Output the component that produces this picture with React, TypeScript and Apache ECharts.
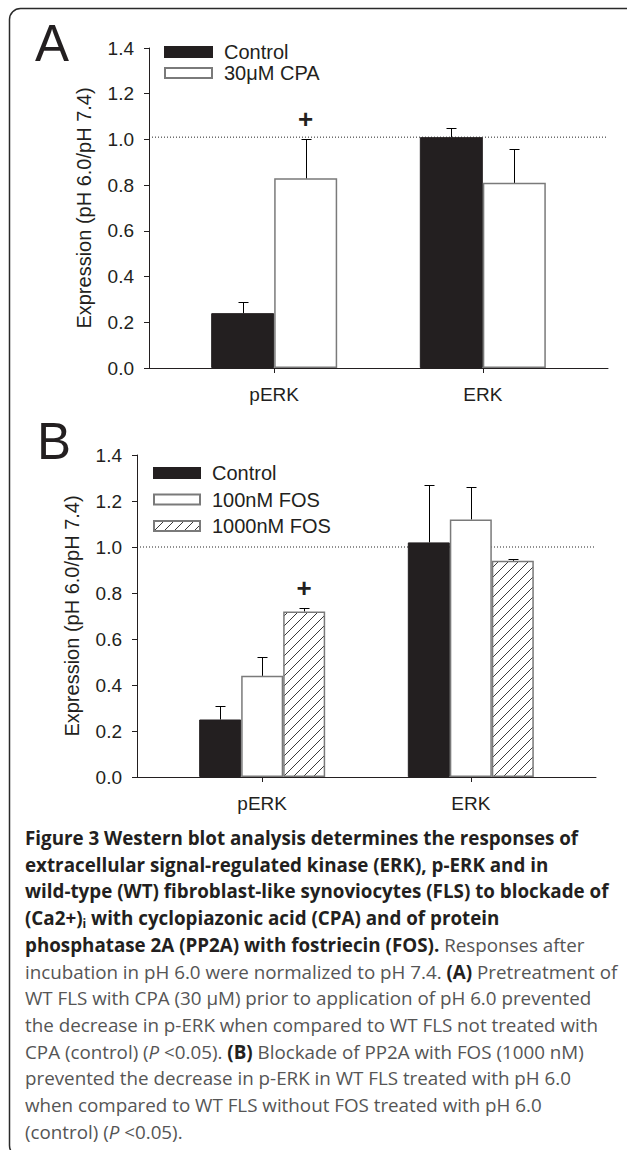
import React, { useEffect, useRef } from 'react';
import * as echarts from 'echarts';

// ---------- data ----------
const categories = ['pERK', 'ERK'];
const yMin = 0;
const yMax = 1.4;
const yInterval = 0.2;

// Panel A
const seriesNamesA = ['Control', '30μM CPA'];
const aControl = [0.24, 1.01];
const aControlErr = [0.047, 0.04];
const aCPA = [0.83, 0.81];
const aCPAErr = [0.17, 0.15];
const aRefLine = 1.01;
const aPlus = { category: 0, series: 1, y: 1.09 };

// Panel B
const seriesNamesB = ['Control', '100nM FOS', '1000nM FOS'];
const bControl = [0.25, 1.02];
const bControlErr = [0.06, 0.25];
const b100 = [0.44, 1.12];
const b100Err = [0.08, 0.14];
const b1000 = [0.72, 0.94];
const b1000Err = [0.015, 0.01];
const bRefLine = 1.0;
const bPlus = { category: 0, series: 2, y: 0.82 };

const yTitle = 'Expression (pH 6.0/pH 7.4)';

const captionLines = [
  '{b|Figure 3 Western blot analysis determines the responses of}',
  '{b|extracellular signal-regulated kinase (ERK), p-ERK and in}',
  '{b|wild-type (WT) fibroblast-like synoviocytes (FLS) to blockade of}',
  '{b|(Ca2+)}{sub|i}{b| with cyclopiazonic acid (CPA) and of protein}',
  '{b|phosphatase 2A (PP2A) with fostriecin (FOS).}{r| Responses after}',
  '{r|incubation in pH 6.0 were normalized to pH 7.4. }{b|(A)}{r| Pretreatment of}',
  '{r|WT FLS with CPA (30 μM) prior to application of pH 6.0 prevented}',
  '{r|the decrease in p-ERK when compared to WT FLS not treated with}',
  '{r|CPA (control) (}{i|P}{r| <0.05). }{b|(B)}{r| Blockade of PP2A with FOS (1000 nM)}',
  '{r|prevented the decrease in p-ERK in WT FLS treated with pH 6.0}',
  '{r|when compared to WT FLS without FOS treated with pH 6.0}',
  '{r|(control) (}{i|P}{r| <0.05).}',
];

// ---------- layout / style ----------
const W = 627;
const H = 1150;
const FONT = '"Liberation Sans", Arial, sans-serif';
const CAP_FONT = '"Open Sans", "Noto Sans", sans-serif';
const INK = '#231f20';
const X_MIN = 0.4;
const X_MAX = 2.6;
const GRID_W = 459;
const PX_PER_UNIT = GRID_W / (X_MAX - X_MIN);
const BAR_W_A = 63;
const BAR_W_B = 42;

function makeHatch(): HTMLCanvasElement {
  const c = document.createElement('canvas');
  c.width = 10;
  c.height = 10;
  const ctx = c.getContext('2d')!;
  ctx.fillStyle = '#ffffff';
  ctx.fillRect(0, 0, 10, 10);
  ctx.strokeStyle = '#3a3a3a';
  ctx.lineWidth = 1;
  ctx.beginPath();
  ctx.moveTo(-1, 11);
  ctx.lineTo(11, -1);
  ctx.moveTo(-1, 1);
  ctx.lineTo(1, -1);
  ctx.moveTo(9, 11);
  ctx.lineTo(11, 9);
  ctx.stroke();
  return c;
}

function xPos(cat: number, s: number, n: number, barPx: number) {
  const u = barPx / PX_PER_UNIT;
  return cat + 1 + (s - (n - 1) / 2) * u;
}

function buildPanel(
  idx: number,
  names: string[],
  values: number[][],
  errs: number[][],
  styles: any[],
  barPx: number,
  refLine: number,
  plus: { category: number; series: number; y: number }
) {
  const n = names.length;
  const series: any[] = [];
  names.forEach((name, s) => {
    series.push({
      type: 'bar',
      name,
      xAxisIndex: idx,
      yAxisIndex: idx,
      barWidth: barPx,
      barGap: '-100%',
      z: 3,
      itemStyle: styles[s],
      data: values[s].map((v, c) => [xPos(c, s, n, barPx), v]),
    });
  });
  const errData: number[][] = [];
  names.forEach((_, s) => {
    values[s].forEach((v, c) => errData.push([xPos(c, s, n, barPx), v, errs[s][c]]));
  });
  series.push({
    type: 'custom',
    xAxisIndex: idx,
    yAxisIndex: idx,
    z: 5,
    silent: true,
    encode: { x: 0, y: 1 },
    data: errData,
    renderItem: (_p: any, api: any) => {
      const x = api.value(0);
      const v = api.value(1);
      const e = api.value(2);
      const p0 = api.coord([x, v]);
      const p1 = api.coord([x, v + e]);
      const cx = Math.round(p0[0]) + 0.5;
      const ty = Math.round(p1[1]) + 0.5;
      return {
        type: 'group',
        children: [
          { type: 'line', shape: { x1: cx, y1: p0[1], x2: cx, y2: ty }, style: { stroke: '#000', lineWidth: 1 } },
          { type: 'line', shape: { x1: cx - 5, y1: ty, x2: cx + 5, y2: ty }, style: { stroke: '#000', lineWidth: 1 } },
        ],
      };
    },
  });
  series.push({
    type: 'custom',
    xAxisIndex: idx,
    yAxisIndex: idx,
    z: 6,
    silent: true,
    encode: { x: 0, y: 1 },
    data: [[xPos(plus.category, plus.series, n, barPx), plus.y]],
    renderItem: (_p: any, api: any) => {
      const p = api.coord([api.value(0), api.value(1)]);
      return {
        type: 'text',
        x: p[0],
        y: p[1],
        style: {
          text: '+',
          fontSize: 26,
          fontWeight: 'bold',
          fontFamily: FONT,
          fill: INK,
          align: 'center',
          verticalAlign: 'middle',
        },
      };
    },
  });
  series.push({
    type: 'line',
    xAxisIndex: idx,
    yAxisIndex: idx,
    z: 1,
    silent: true,
    symbol: 'none',
    lineStyle: { color: '#222', width: 1, type: [1, 2] },
    data: [
      [X_MIN, refLine],
      [X_MAX, refLine],
    ],
  });
  return series;
}

function axisPair(idx: number) {
  const x = {
    type: 'value',
    gridIndex: idx,
    min: X_MIN,
    max: X_MAX,
    axisLine: { show: true, lineStyle: { color: INK, width: 1 } },
    axisTick: { show: true, customValues: [1, 2], length: 5, lineStyle: { color: INK } },
    axisLabel: {
      customValues: [1, 2],
      formatter: (v: number) => categories[Math.round(v) - 1] ?? '',
      fontSize: 19,
      fontFamily: FONT,
      color: INK,
      margin: 17,
    },
    splitLine: { show: false },
  };
  const y = {
    type: 'value',
    gridIndex: idx,
    min: yMin,
    max: yMax,
    interval: yInterval,
    name: yTitle,
    nameLocation: 'middle',
    nameRotate: 90,
    nameGap: 55,
    nameTextStyle: { fontSize: 20, fontFamily: FONT, color: INK },
    axisLine: { show: true, lineStyle: { color: INK, width: 1 } },
    axisTick: { show: true, length: 5, lineStyle: { color: INK } },
    axisLabel: {
      formatter: (v: number) => v.toFixed(1),
      fontSize: 19,
      fontFamily: FONT,
      color: INK,
      margin: 15,
    },
    splitLine: { show: false },
  };
  return { x, y };
}

export default function App() {
  const ref = useRef<HTMLDivElement>(null);
  useEffect(() => {
    if (!ref.current) return;
    const chart = echarts.init(ref.current, undefined, { renderer: 'svg', width: W, height: H });
    const hatch = makeHatch();
    const black = { color: INK, borderColor: INK, borderWidth: 1 };
    const white = { color: '#ffffff', borderColor: '#7a7a7a', borderWidth: 1.5 };
    const hatched = { color: { image: hatch, repeat: 'repeat' }, borderColor: '#7a7a7a', borderWidth: 1.5 };

    const A = axisPair(0);
    const B = axisPair(1);

    const seriesA = buildPanel(0, seriesNamesA, [aControl, aCPA], [aControlErr, aCPAErr], [black, white], BAR_W_A, aRefLine, aPlus);
    const seriesB = buildPanel(
      1,
      seriesNamesB.map((s) => s + ' '),
      [bControl, b100, b1000],
      [bControlErr, b100Err, b1000Err],
      [black, white, hatched],
      BAR_W_B,
      bRefLine,
      bPlus
    );

    const legendText = { fontSize: 20, fontFamily: FONT, color: INK, padding: [0, 0, 0, 7] };

    const graphics: any[] = [
      {
        type: 'rect',
        shape: { x: 9.5, y: 8.5, width: 700, height: 1148, r: 11 },
        style: { fill: 'none', stroke: '#2a2a2a', lineWidth: 1.5 },
        z: 0,
      },
      {
        type: 'text',
        x: 35,
        y: 43,
        style: { text: 'A', fontSize: 51, fontFamily: FONT, fill: INK, align: 'left', verticalAlign: 'middle' },
      },
      {
        type: 'text',
        x: 37,
        y: 441,
        style: { text: 'B', fontSize: 51, fontFamily: FONT, fill: INK, align: 'left', verticalAlign: 'middle' },
      },
    ];
    const capFs = 18.8;
    const rich = {
      b: { fontFamily: CAP_FONT, fontWeight: 'bold', fontSize: capFs, fill: '#231f20', lineHeight: 22 },
      r: { fontFamily: CAP_FONT, fontWeight: 'normal', fontSize: capFs, fill: '#555555', lineHeight: 22 },
      i: { fontFamily: CAP_FONT, fontStyle: 'italic', fontSize: capFs, fill: '#555555', lineHeight: 22 },
      sub: { fontFamily: CAP_FONT, fontWeight: 'bold', fontSize: 12, fill: '#231f20', lineHeight: 12, verticalAlign: 'bottom' },
    };
    captionLines.forEach((line, k) => {
      graphics.push({
        type: 'text',
        x: 25,
        y: 838 + k * 26.7,
        style: { text: line, rich, align: 'left', verticalAlign: 'middle' },
      });
    });

    chart.setOption({
      animation: false,
      backgroundColor: '#ffffff',
      grid: [
        { left: 149, top: 48, width: GRID_W, height: 320 },
        { left: 137, top: 455, width: GRID_W, height: 322 },
      ],
      xAxis: [A.x, B.x],
      yAxis: [A.y, B.y],
      legend: [
        {
          data: seriesNamesA,
          orient: 'vertical',
          left: 164,
          top: 42,
          padding: 0,
          itemWidth: 47,
          itemHeight: 10,
          itemGap: 1,
          icon: 'rect',
          textStyle: legendText,
          selectedMode: false,
        },
        {
          data: seriesNamesB.map((s) => s + ' '),
          orient: 'vertical',
          left: 153,
          top: 463,
          padding: 0,
          itemWidth: 46,
          itemHeight: 10,
          itemGap: 6.5,
          icon: 'rect',
          textStyle: legendText,
          selectedMode: false,
        },
      ],
      graphic: graphics,
      series: [...seriesA, ...seriesB],
    });
    return () => chart.dispose();
  }, []);
  return <div ref={ref} style={{ position: 'absolute', left: 0, top: 0, width: W, height: H }} />;
}
